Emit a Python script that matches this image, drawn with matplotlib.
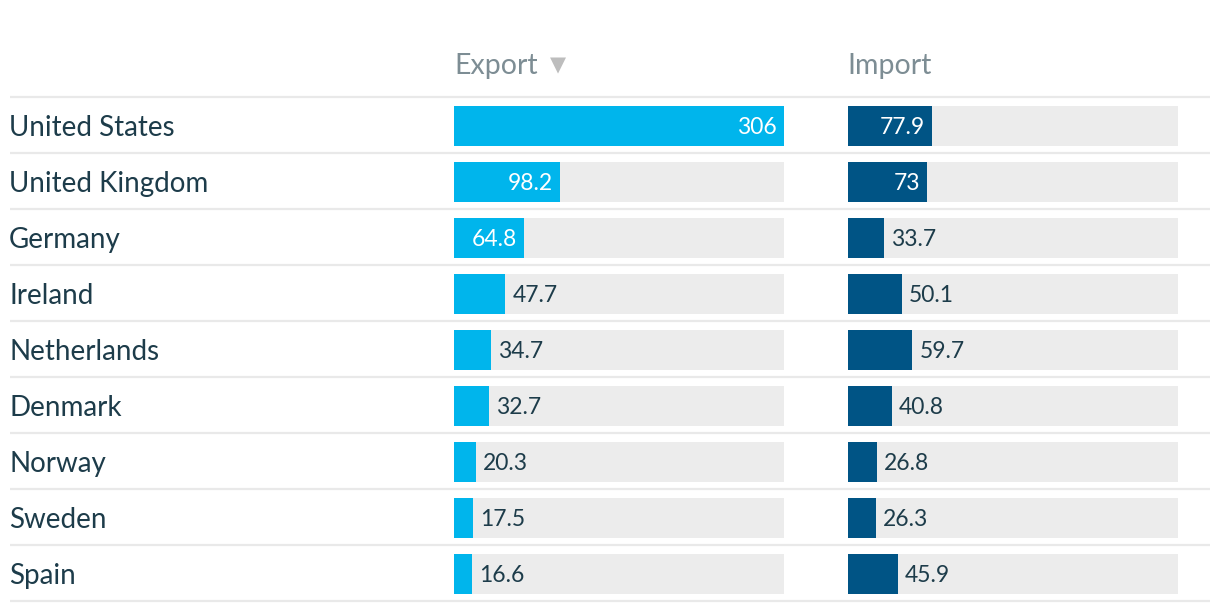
import numpy as np
import matplotlib
matplotlib.use("Agg")
import matplotlib.pyplot as plt

plt.rcParams['font.family'] = ['Lato', 'DejaVu Sans']

## Data
countries = ["United States", "United Kingdom", "Germany", "Ireland", "Netherlands",
             "Denmark", "Norway", "Sweden", "Spain"]
exportValues = [306, 98.2, 64.8, 47.7, 34.7, 32.7, 20.3, 17.5, 16.6]
importValues = [77.9, 73, 33.7, 50.1, 59.7, 40.8, 26.8, 26.3, 45.9]
columnTitles = ["Export", "Import"]

## Styles
textColor = "#1d3c4a"
headerColor = "#7d8d94"
trackColor = "#ececec"
lineColor = "#e9e9e9"
exportColor = "#00b5ec"
importColor = "#005485"
scaleMax = max(exportValues)

W, H = 1220, 612
fig = plt.figure(figsize=(W / 100, H / 100), dpi=100)

## Background axes: x in pixels, y in row units
nRows = len(countries)
rowTop, rowHeight = 98, 56
bg = fig.add_axes([0, 0, 1, 1])
bg.set_xlim(0, W)
bg.set_ylim((H - rowTop) / rowHeight - 0.5, -rowTop / rowHeight - 0.5)
bg.axis("off")

bg.hlines(np.arange(nRows + 1) - 0.52, 10, 1210, color=lineColor, linewidth=1.6)
for indexRow, country in enumerate(countries):
    bg.text(9, indexRow + 0.04, country, fontsize=20, color=textColor, va="center", ha="left")

headerY = (66 - rowTop) / rowHeight - 0.5
bg.text(454, headerY, columnTitles[0], fontsize=20.5, color=headerColor, va="center", ha="left")
bg.text(549.5, headerY - 0.01, "\u25bc", fontsize=15, color="#bdbdbd", va="center", ha="left",
        family=["DejaVu Sans"])
bg.text(847, headerY, columnTitles[1], fontsize=20.5, color=headerColor, va="center", ha="left")

## Bar columns
def barColumn(leftPx, values, color):
    ax = fig.add_axes([leftPx / W, 1 - (rowTop + nRows * rowHeight) / H, 330 / W, nRows * rowHeight / H])
    ax.set_xlim(0, scaleMax)
    ax.set_ylim(nRows - 0.5, -0.5)
    ax.axis("off")
    y = np.arange(nRows)
    ax.barh(y, [scaleMax] * nRows, height=40 / 56, color=trackColor, linewidth=0)
    ax.barh(y, values, height=40 / 56, color=color, linewidth=0)
    for indexRow, value in enumerate(values):
        label = f"{value:g}"
        if value >= 62:
            ax.annotate(label, (value, indexRow + 0.03), xytext=(-5, 0), textcoords="offset points",
                        ha="right", va="center", color="white", fontsize=16.5)
        else:
            ax.annotate(label, (value, indexRow + 0.03), xytext=(5, 0), textcoords="offset points",
                        ha="left", va="center", color=textColor, fontsize=16.5)
    return ax

barColumn(454, exportValues, exportColor)
barColumn(848, importValues, importColor)

fig.savefig("out.png", dpi=100)
